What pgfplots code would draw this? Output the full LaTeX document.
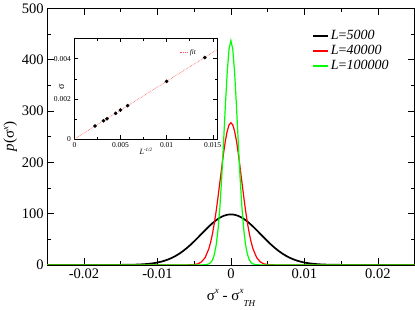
\documentclass[border=0pt]{standalone}
\usepackage{fontspec}
\setmainfont{Liberation Serif}
\usepackage{pgfplots}
\pgfplotsset{compat=1.18}
\definecolor{xred}{RGB}{255,0,0}
\definecolor{xgreen}{RGB}{0,255,0}
\definecolor{xfit}{RGB}{255,80,80}
\begin{document}
\begin{tikzpicture}
\begin{axis}[
  name=main,
  scale only axis, width=365bp, height=255bp,
  xmin=-0.025, xmax=0.025, ymin=0, ymax=500,
  xtick={-0.02,-0.01,0,0.01,0.02},
  xticklabels={-0.02,-0.01,0,0.01,0.02},
  ytick={0,100,200,300,400,500},
  yticklabels={0,100,200,300,400,500},
  minor x tick num=1, minor y tick num=1,
  scaled x ticks=false,
  tick align=inside,
  major tick length=7bp, minor tick length=4bp,
  every tick/.style={black, line width=0.6bp},
  axis line style={line width=0.8bp},
  tick label style={font=\fontsize{14.5}{16}\selectfont},
  xlabel={σ\raisebox{1.0ex}{\fontsize{9}{10}\selectfont\itshape x} - σ\raisebox{1.0ex}{\fontsize{9}{10}\selectfont\itshape x}\raisebox{-0.9ex}{\fontsize{9}{10}\selectfont\itshape TH}},
  ylabel={\textit{p}(σ\raisebox{0.8ex}{\fontsize{9}{10}\selectfont\itshape x})},
  label style={font=\fontsize{15}{17}\selectfont},
  xlabel style={yshift=-4bp},
  ylabel style={yshift=-2bp},
  legend style={draw=none, fill=none, at={(0.712,0.93)}, anchor=north west,
    font=\fontsize{14}{14}\selectfont, row sep=0bp},
  legend cell align=left,
  legend image code/.code={\draw[#1, line width=2bp] (0cm,0cm) -- (0.52cm,0cm);},
]
\addplot[black, line width=1.7bp] coordinates {
(-0.025,0) (-0.018,0) (-0.016,0.04) (-0.015,0.10) (-0.014,0.25) (-0.013,0.57) (-0.012,1.22) (-0.0115,1.75) (-0.011,2.46) (-0.0105,3.42) (-0.010,4.67) (-0.0095,6.29) (-0.009,8.34) (-0.0085,10.89) (-0.008,14.00) (-0.0075,17.73) (-0.007,22.12) (-0.0065,27.18) (-0.006,32.87) (-0.0055,39.17) (-0.005,45.97) (-0.0045,53.13) (-0.004,60.48) (-0.0035,67.81) (-0.003,74.87) (-0.0025,81.41) (-0.002,87.19) (-0.0015,91.97) (-0.001,95.54) (-0.0005,97.75) (0,98.5)
(0.0005,97.75) (0.001,95.54) (0.0015,91.97) (0.002,87.19) (0.0025,81.41) (0.003,74.87) (0.0035,67.81) (0.004,60.48) (0.0045,53.13) (0.005,45.97) (0.0055,39.17) (0.006,32.87) (0.0065,27.18) (0.007,22.12) (0.0075,17.73) (0.008,14.00) (0.0085,10.89) (0.009,8.34) (0.0095,6.29) (0.010,4.67) (0.0105,3.42) (0.011,2.46) (0.0115,1.75) (0.012,1.22) (0.013,0.57) (0.014,0.25) (0.015,0.10) (0.016,0.04) (0.018,0) (0.025,0)
};
\addlegendentry{\textit{L}=\textit{5000}}
\addplot[xred, line width=1.2bp] coordinates {
(-0.025,0) (-0.007,0) (-0.006,0.05) (-0.005,0.67) (-0.0045,2.10) (-0.004,5.85) (-0.0035,14.4) (-0.003,31.6) (-0.00275,44.7) (-0.0025,61.4) (-0.00225,81.7) (-0.002,105.6) (-0.00175,132.4) (-0.0015,161.0) (-0.00125,190.0) (-0.001,217.7) (-0.00075,241.9) (-0.0005,260.8) (-0.00025,272.9) (0,277)
(0.00025,272.9) (0.0005,260.8) (0.00075,241.9) (0.001,217.7) (0.00125,190.0) (0.0015,161.0) (0.00175,132.4) (0.002,105.6) (0.00225,81.7) (0.0025,61.4) (0.00275,44.7) (0.003,31.6) (0.0035,14.4) (0.004,5.85) (0.0045,2.10) (0.005,0.67) (0.006,0.05) (0.007,0) (0.025,0)
};
\addlegendentry{\textit{L}=\textit{40000}}
\addplot[xgreen, line width=1.2bp] coordinates {
(-0.025,0) (-0.005,0) (-0.004,0.03) (-0.0035,0.27) (-0.003,1.91) (-0.00275,4.55) (-0.0025,10.04) (-0.00225,20.55) (-0.002,39.1) (-0.00175,68.8) (-0.0015,112.4) (-0.00125,170.1) (-0.001,238.9) (-0.00075,311.2) (-0.0005,375.8) (-0.00025,420.8) (0,437)
(0.00025,420.8) (0.0005,375.8) (0.00075,311.2) (0.001,238.9) (0.00125,170.1) (0.0015,112.4) (0.00175,68.8) (0.002,39.1) (0.00225,20.55) (0.0025,10.04) (0.00275,4.55) (0.003,1.91) (0.0035,0.27) (0.004,0.03) (0.005,0) (0.025,0)
};
\addlegendentry{\textit{L}=\textit{100000}}
\end{axis}
\begin{axis}[
  at={(27bp,125bp)}, anchor=south west,
  scale only axis, width=142bp, height=100bp,
  axis background/.style={fill=white},
  xmin=0, xmax=0.0155, ymin=0, ymax=0.005,
  xtick={0,0.005,0.01,0.015}, xticklabels={0,0.005,0.01,0.015},
  ytick={0,0.002,0.004}, yticklabels={0,0.002,0.004},
  minor x tick num=1, minor y tick num=1,
  scaled x ticks=false, scaled y ticks=false,
  tick align=inside,
  major tick length=4bp, minor tick length=2.5bp,
  every tick/.style={black, line width=0.4bp},
  axis line style={line width=0.6bp},
  tick label style={font=\fontsize{7.5}{8}\selectfont},
  xtick pos=both, ytick pos=both,
  xlabel={\textit{L}\raisebox{0.7ex}{\fontsize{5}{6}\selectfont\itshape -1/2}},
  ylabel={σ},
  label style={font=\fontsize{8}{9}\selectfont},
  xlabel style={yshift=6bp},
  every axis y label/.style={at={(rel axis cs:-0.09,0.52)}, rotate=90, anchor=center},
  legend style={draw=none, fill=none, at={(0.71,0.93)}, anchor=north west,
    font=\fontsize{7}{8}\selectfont},
  legend image code/.code={\draw[draw=xfit, line width=0.9bp, dash pattern=on 1bp off 0.8bp] (0cm,0cm) -- (0.28cm,0cm);},
]
\addplot[xfit, densely dotted, line width=0.6bp] coordinates {(0,0) (0.0155,0.00445)};
\addlegendentry{\textit{fit}}
\addplot[only marks, mark=*, mark size=1.6bp, black] coordinates {
(0.002236,0.00065) (0.003162,0.00091) (0.003536,0.00101) (0.004472,0.00128) (0.005,0.00144) (0.005774,0.00166) (0.01,0.00287) (0.014142,0.00405)
};
\end{axis}
\end{tikzpicture}
\end{document}
